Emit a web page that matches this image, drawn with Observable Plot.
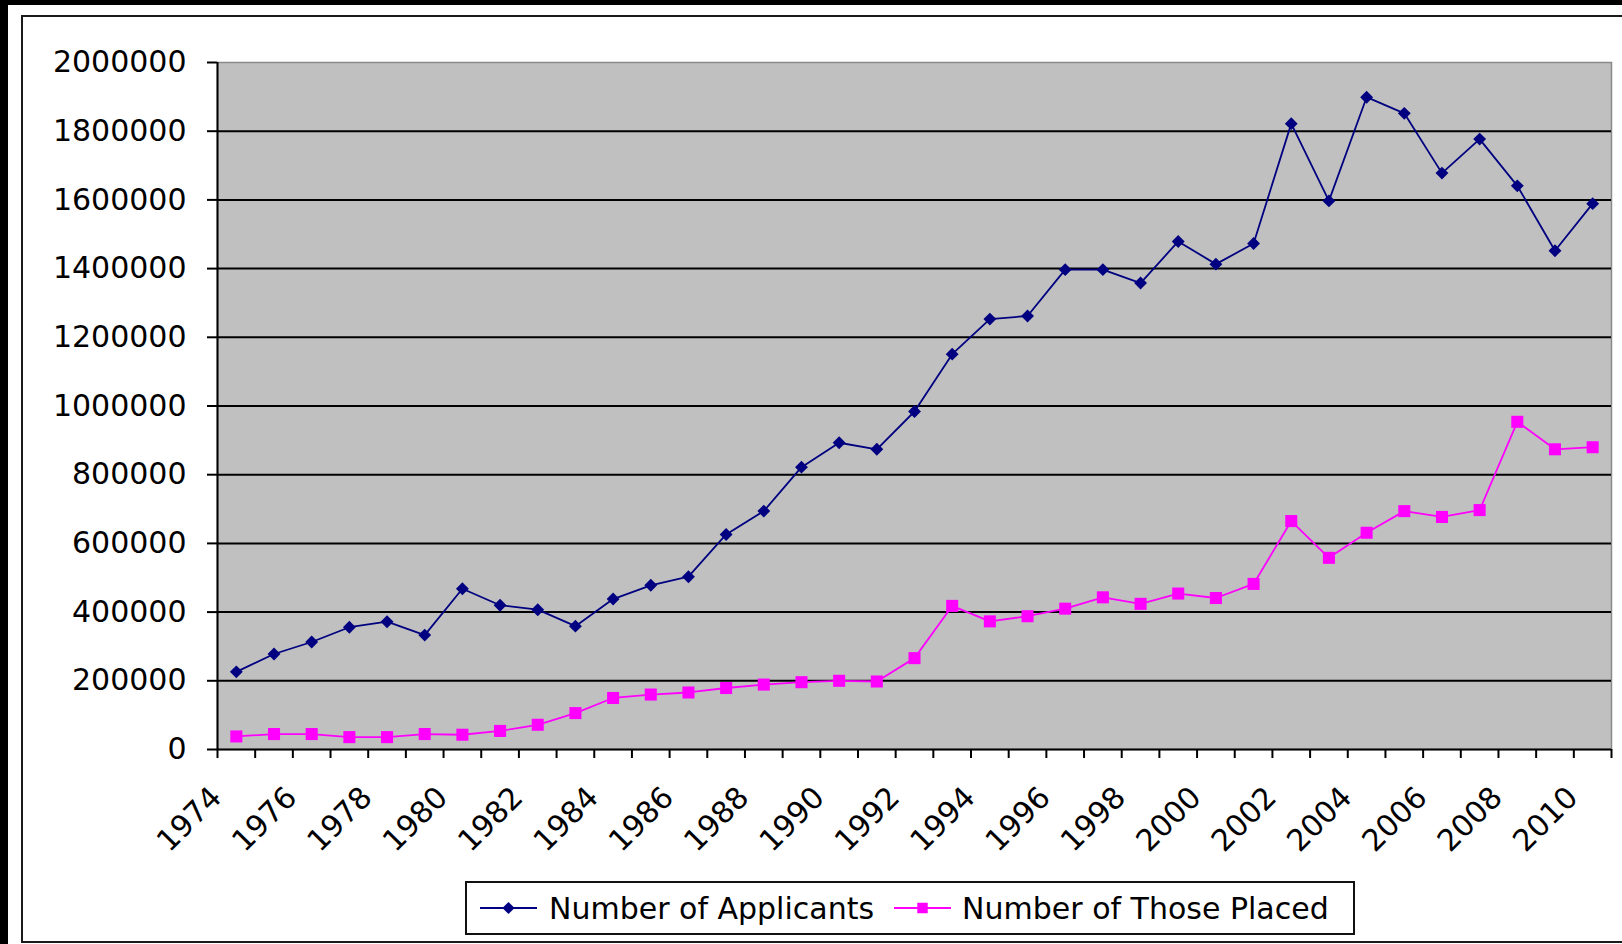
<!DOCTYPE html>
<html><head><meta charset="utf-8">
<script src="https://cdn.jsdelivr.net/npm/d3@7"></script>
<script src="https://cdn.jsdelivr.net/npm/@observablehq/plot@0.6"></script>
<style>
html,body{margin:0;padding:0;background:#000;width:1622px;height:944px;overflow:hidden;}
#bg{position:absolute;left:8px;top:5px;width:1614px;height:939px;background:#fff;}
#frame{position:absolute;left:21px;top:15px;width:1640px;height:928px;border:2px solid #1a1a1a;box-sizing:border-box;}
#chart{position:absolute;left:0;top:0;}
#legend{position:absolute;left:465px;top:881px;width:890px;height:54px;box-sizing:border-box;border:2px solid #111;background:#fff;display:flex;align-items:center;font-family:"DejaVu Sans";font-size:30px;color:#000;white-space:nowrap;}
#legend svg{display:block;flex:none;}
</style></head><body>
<div id="bg"></div><div id="frame"></div><div id="chart"></div><div id="legend"></div>
<script>
const years = [1974,1975,1976,1977,1978,1979,1980,1981,1982,1983,1984,1985,1986,1987,1988,1989,1990,1991,1992,1993,1994,1995,1996,1997,1998,1999,2000,2001,2002,2003,2004,2005,2006,2007,2008,2009,2010];
const applicants = [226000,278000,313000,356000,372000,333000,468000,420000,407000,359000,438000,478000,503000,626000,694000,822000,893000,874000,984000,1151000,1253000,1262000,1397000,1397000,1358000,1479000,1413000,1473000,1822000,1597000,1899000,1852000,1678000,1777000,1641000,1452000,1589000];
const placed = [38000,45000,45000,36000,36000,45000,43000,54000,72000,106000,150000,160000,166000,179000,189000,196000,200000,198000,266000,418000,373000,388000,410000,443000,424000,454000,441000,482000,665000,558000,631000,694000,677000,697000,954000,874000,880000];
const yTicks = [0,200000,400000,600000,800000,1000000,1200000,1400000,1600000,1800000,2000000];
const xLabelYears = [1974,1976,1978,1980,1982,1984,1986,1988,1990,1992,1994,1996,1998,2000,2002,2004,2006,2008,2010];
const seriesNames = ["Number of Applicants","Number of Those Placed"];
const seriesColors = ["#000080","#ff00ff"];

const rows = years.map((y,i)=>({year:y, applicants:applicants[i], placed:placed[i]}));
const xDomain = [years[0]-0.5, years[years.length-1]+0.5];
const bounds = years.map(y=>y-0.5).concat([years[years.length-1]+0.5]);

const chart = Plot.plot({
  width:1622, height:880,
  marginLeft:217, marginRight:11, marginTop:62, marginBottom:131,
  style:{fontFamily:"DejaVu Sans", fontSize:"30px", background:"transparent", color:"#000", overflow:"visible"},
  x:{domain:xDomain},
  y:{domain:[0,2000000]},
  marks:[
    Plot.frame({fill:"#c0c0c0", stroke:"#8a8a8a", strokeWidth:1.5}),
    Plot.gridY(yTicks.filter(t=>t>0 && t<2000000), {stroke:"#000", strokeOpacity:1, strokeWidth:2}),
    Plot.ruleY([0], {stroke:"#000", strokeWidth:2}),
    Plot.ruleX([xDomain[0]], {stroke:"#000", strokeWidth:2}),
    Plot.axisY(yTicks, {tickSize:10, tickPadding:21, tickFormat:d3.format("d"), strokeWidth:2, label:null}),
    Plot.axisX(bounds, {tickSize:9, tickFormat:()=>"", strokeWidth:2, label:null}),
    Plot.axisX(xLabelYears, {tickSize:0, tickRotate:-45, tickPadding:43, dx:-20, tickFormat:d=>String(d), label:null}),
    Plot.line(rows, {x:"year", y:"applicants", stroke:seriesColors[0], strokeWidth:1.8}),
    Plot.dot(rows, {x:"year", y:"applicants", symbol:"diamond2", r:5.8, fill:seriesColors[0], stroke:"none"}),
    Plot.line(rows, {x:"year", y:"placed", stroke:seriesColors[1], strokeWidth:1.8}),
    Plot.dot(rows, {x:"year", y:"placed", symbol:"square", r:6.8, fill:seriesColors[1], stroke:"none"})
  ]
});
document.getElementById("chart").appendChild(chart);

// legend
const legend = document.getElementById("legend");
const gaps = [[13,12],[20,11]];
seriesNames.forEach((name,i)=>{
  const ns = "http://www.w3.org/2000/svg";
  const s = document.createElementNS(ns,"svg");
  s.setAttribute("width",57); s.setAttribute("height",20);
  s.style.marginLeft = gaps[i][0]+"px"; s.style.marginRight = gaps[i][1]+"px";
  const l = document.createElementNS(ns,"line");
  l.setAttribute("x1",0); l.setAttribute("x2",57); l.setAttribute("y1",10); l.setAttribute("y2",10);
  l.setAttribute("stroke",seriesColors[i]); l.setAttribute("stroke-width",2);
  s.appendChild(l);
  const p = document.createElementNS(ns,"path");
  const sym = i===0 ? d3.symbol(d3.symbolDiamond2, 95) : d3.symbol(d3.symbolSquare, 110);
  p.setAttribute("d", sym()); p.setAttribute("transform","translate(28.5,10)");
  p.setAttribute("fill",seriesColors[i]);
  s.appendChild(p);
  legend.appendChild(s);
  const t = document.createElement("span");
  t.textContent = name;
  legend.appendChild(t);
});
</script>
</body></html>
